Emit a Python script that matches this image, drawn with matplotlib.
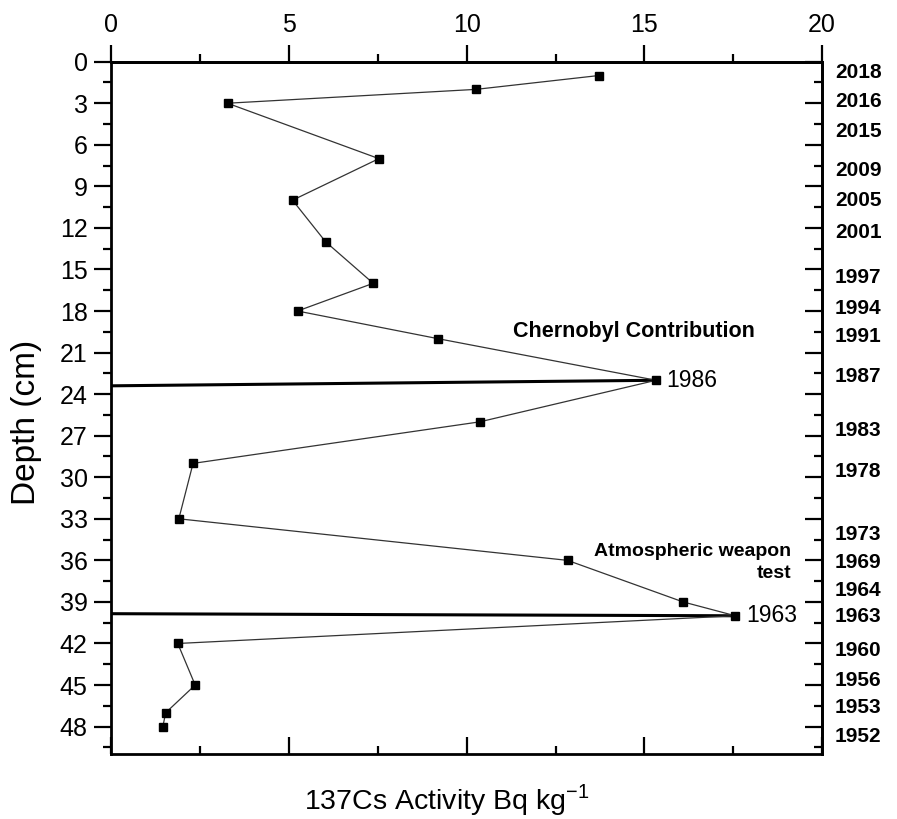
import matplotlib.pyplot as plt
from matplotlib.ticker import MultipleLocator, NullFormatter

plt.rcParams['font.family'] = ['Liberation Sans', 'DejaVu Sans']
plt.rcParams['mathtext.fontset'] = 'custom'
plt.rcParams['mathtext.rm'] = 'Liberation Sans'

# 137Cs profile: depth (cm) vs activity (Bq/kg)
depth = [1, 2, 3, 7, 10, 13, 16, 18, 20, 23, 26, 29, 33, 36, 39, 40, 42, 45, 47, 48]
activity = [13.72, 10.26, 3.27, 7.53, 5.10, 6.03, 7.37, 5.24, 9.20, 15.33,
            10.37, 2.30, 1.90, 12.84, 16.09, 17.56, 1.87, 2.36, 1.53, 1.45]

# year labels on the right side and their depth positions
years = ['2018', '2016', '2015', '2009', '2005', '2001', '1997', '1994', '1991', '1987',
         '1983', '1978', '1973', '1969', '1964', '1963', '1960', '1956', '1953', '1952']
year_depth = [0.8, 2.9, 5.05, 7.85, 10.0, 12.35, 15.6, 17.85, 19.85, 22.7,
              26.6, 29.55, 34.1, 36.15, 38.15, 40.05, 42.5, 44.7, 46.6, 48.7]

# peak markers: (index of peak sample, depth where the line meets the left axis, label)
peaks = [(9, 23.4, '1986'), (15, 39.85, '1963')]

fig = plt.figure(figsize=(8.97, 8.19), dpi=100)
ax = fig.add_axes([0.1241, 0.0790, 0.7923, 0.8457])

ax.plot(activity, depth, '-s', color='#333333', lw=0.9, ms=5.5, mfc='black', mec='black', zorder=3)

for i, left_depth, lab in peaks:
    ax.plot([0, activity[i]], [left_depth, depth[i]], color='black', lw=2.2, zorder=2)
    ax.text(activity[i] + 0.3, depth[i], lab, fontsize=16.5, ha='left', va='center')

ax.text(11.3, 19.46, 'Chernobyl Contribution', fontsize=15.5, fontweight='bold',
        ha='left', va='center')
ax.text(19.14, 36.17, 'Atmospheric weapon\ntest', fontsize=14, fontweight='bold',
        ha='right', va='center', multialignment='right', linespacing=1.35)

ax.set_xlim(0, 20)
ax.set_ylim(50, 0)

for sp in ax.spines.values():
    sp.set_linewidth(2)

# bottom axis: ticks inward, no labels
ax.xaxis.set_major_locator(MultipleLocator(5))
ax.xaxis.set_minor_locator(MultipleLocator(2.5))
ax.tick_params(axis='x', which='both', bottom=True, top=False, labelbottom=False, direction='in')
ax.tick_params(axis='x', which='major', length=12, width=1.6)
ax.tick_params(axis='x', which='minor', length=6, width=1.6)

# left axis: ticks outward
ax.yaxis.set_major_locator(MultipleLocator(3))
ax.yaxis.set_minor_locator(MultipleLocator(1.5))
ax.tick_params(axis='y', which='both', left=True, right=False, direction='out', labelsize=18, pad=5)
ax.tick_params(axis='y', which='major', length=12, width=1.6)
ax.tick_params(axis='y', which='minor', length=6, width=1.6)

# top axis with labels, ticks outward
secx = ax.secondary_xaxis('top')
secx.xaxis.set_major_locator(MultipleLocator(5))
secx.xaxis.set_minor_locator(MultipleLocator(2.5))
secx.tick_params(which='both', direction='out', labelsize=18, pad=6)
secx.tick_params(which='major', length=12, width=1.6)
secx.tick_params(which='minor', length=6, width=1.6)
secx.spines['top'].set_linewidth(2)

# right axis, ticks inward, no labels
secy = ax.secondary_yaxis('right')
secy.yaxis.set_major_locator(MultipleLocator(3))
secy.yaxis.set_minor_locator(MultipleLocator(1.5))
secy.yaxis.set_major_formatter(NullFormatter())
secy.tick_params(which='both', direction='in')
secy.tick_params(which='major', length=12, width=1.6)
secy.tick_params(which='minor', length=6, width=1.6)
secy.spines['right'].set_linewidth(2)

trans = ax.get_yaxis_transform()
for yr, d in zip(years, year_depth):
    ax.text(1.018, d, yr, transform=trans, fontsize=15, fontweight='bold',
            ha='left', va='center', clip_on=False)

fig.text(27 / 897, 1 - 422 / 819, 'Depth (cm)', rotation=90, ha='center', va='center', fontsize=24)
fig.text(447 / 897, 1 - 800 / 819, '137Cs Activity Bq kg$^{-1}$', ha='center', va='center', fontsize=20.5)

fig.savefig('out.png', dpi=100)
